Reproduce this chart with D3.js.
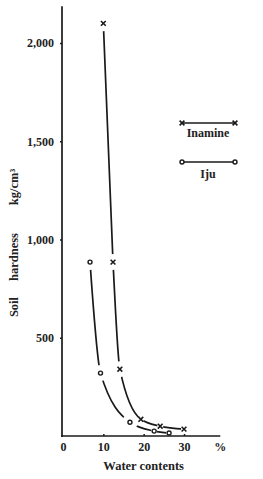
<!DOCTYPE html>
<html><head><meta charset="utf-8">
<script src="https://cdn.jsdelivr.net/npm/d3@7"></script>
<style>
html,body{margin:0;padding:0;background:#fff;}
svg text{font-family:"Liberation Serif","Times New Roman",serif;fill:#222;}
</style></head>
<body>
<script>
const seriesNames = ["Inamine", "Iju"];
const inamineWater = [10.0, 12.4, 14.1, 19.3, 24.1, 30.0];
const inamineHardness = [2100, 885, 340, 85, 50, 35];
const ijuWater = [6.7, 9.3, 16.6, 22.6, 26.3];
const ijuHardness = [885, 320, 70, 25, 15];
const xTicks = [0, 10, 20, 30];
const yTicks = [500, 1000, 1500, 2000];
const yTickLabels = ["500", "1,000", "1,500", "2,000"];
const yTitleWords = ["Soil", "hardness", "kg/cm³"];

const W = 263, H = 479;
const svg = d3.select("body").append("svg").attr("width", W).attr("height", H);
const x = d3.scaleLinear().domain([0, 30]).range([63, 184]);
const y = d3.scaleLinear().domain([0, 2000]).range([436, 43]);
const ink = "#1a1a1a";
const fs = 12;

// axes
const yAxis = d3.axisLeft(y).tickValues(yTicks).tickSize(2).tickFormat((d,i)=>yTickLabels[i]);
const gy = svg.append("g").attr("transform", `translate(${x(0)-1},0)`).call(yAxis);
gy.select(".domain").remove();
gy.selectAll(".tick line").attr("stroke", ink).attr("stroke-width", 1.5);
gy.selectAll(".tick text").attr("x", -8).attr("font-size", fs).attr("font-weight", "bold").attr("fill", ink);
svg.append("line").attr("x1", x(0)-1).attr("x2", x(0)-1).attr("y1", y(0)+1).attr("y2", y(2187))
  .attr("stroke", ink).attr("stroke-width", 1.7);

const xAxis = d3.axisBottom(x).tickValues(xTicks).tickSize(0).tickFormat(d3.format("d"));
const gx = svg.append("g").attr("transform", `translate(0,${y(0)})`).call(xAxis);
gx.select(".domain").remove();
gx.selectAll(".tick text").attr("dy", "0.71em").attr("y", 6).attr("font-size", fs).attr("font-weight", "bold").attr("fill", ink);
gx.selectAll(".tick").filter(d=>d>0).append("line").attr("y1", 0).attr("y2", -2).attr("stroke", ink).attr("stroke-width", 1.5);
svg.append("line").attr("x1", x(0)-2).attr("x2", x(39)).attr("y1", y(0)).attr("y2", y(0))
  .attr("stroke", ink).attr("stroke-width", 1.7);
svg.append("text").attr("x", x(39)).attr("y", y(0)+15).attr("text-anchor","middle")
  .attr("font-size", fs).attr("font-weight","bold").attr("fill", ink).text("%");

svg.append("text").attr("x", x(20)).attr("y", 470).attr("text-anchor","middle")
  .attr("font-size", 12.5).attr("font-weight","bold").attr("fill", ink).text("Water contents");

// rotated y title, words spaced apart
const yTitleCenters = [307, 257, 187];
yTitleWords.forEach((w, i) => {
  svg.append("text").attr("transform", `translate(18,${yTitleCenters[i]}) rotate(-90)`).attr("text-anchor","middle")
    .attr("font-size", 12.5).attr("font-weight","bold").attr("fill", ink).text(w);
});

// series lines with gaps around markers
const line = d3.line().x(d=>x(d[0])).y(d=>y(d[1])).curve(d3.curveMonotoneX);
const series = [
  {name: seriesNames[0], pts: d3.zip(inamineWater, inamineHardness), type: "x"},
  {name: seriesNames[1], pts: d3.zip(ijuWater, ijuHardness), type: "o"}
];
const defs = svg.append("defs");
series.forEach((s, i) => {
  const m = defs.append("mask").attr("id", "m"+i).attr("maskUnits","userSpaceOnUse")
    .attr("x",0).attr("y",0).attr("width",W).attr("height",H);
  m.append("rect").attr("width", W).attr("height", H).attr("fill", "#fff");
  m.selectAll("circle").data(s.pts).join("circle")
    .attr("cx", d=>x(d[0])).attr("cy", d=>y(d[1])).attr("r", (d,j)=> j < 3 ? 8 : 3).attr("fill", "#000");
  svg.append("path").attr("d", line(s.pts)).attr("fill","none").attr("stroke", ink)
    .attr("stroke-width", 1.7).attr("mask", `url(#m${i})`);
});

function drawMarker(g, type, cx, cy) {
  if (type === "x") {
    const r = 2.4;
    g.append("path").attr("d", `M${cx-r},${cy-r}L${cx+r},${cy+r}M${cx-r},${cy+r}L${cx+r},${cy-r}`)
      .attr("stroke", ink).attr("stroke-width", 1.6).attr("fill","none");
  } else {
    g.append("circle").attr("cx", cx).attr("cy", cy).attr("r", 2)
      .attr("fill", "#fff").attr("stroke", ink).attr("stroke-width", 1.4);
  }
}
const gm = svg.append("g");
series.forEach(s => s.pts.forEach(p => drawMarker(gm, s.type, x(p[0]), y(p[1]))));

// legend
const lg = svg.append("g");
[[123, 137], [162, 178]].forEach(([ly, ty], i) => {
  const s = series[i];
  lg.append("line").attr("x1", 183).attr("x2", 234).attr("y1", ly).attr("y2", ly)
    .attr("stroke", ink).attr("stroke-width", 1.6);
  drawMarker(lg, s.type, 182, ly);
  drawMarker(lg, s.type, 235, ly);
  lg.append("text").attr("x", 208).attr("y", ty).attr("text-anchor","middle")
    .attr("font-size", fs).attr("font-weight","bold").attr("fill", ink).text(s.name);
});
</script>
</body></html>
